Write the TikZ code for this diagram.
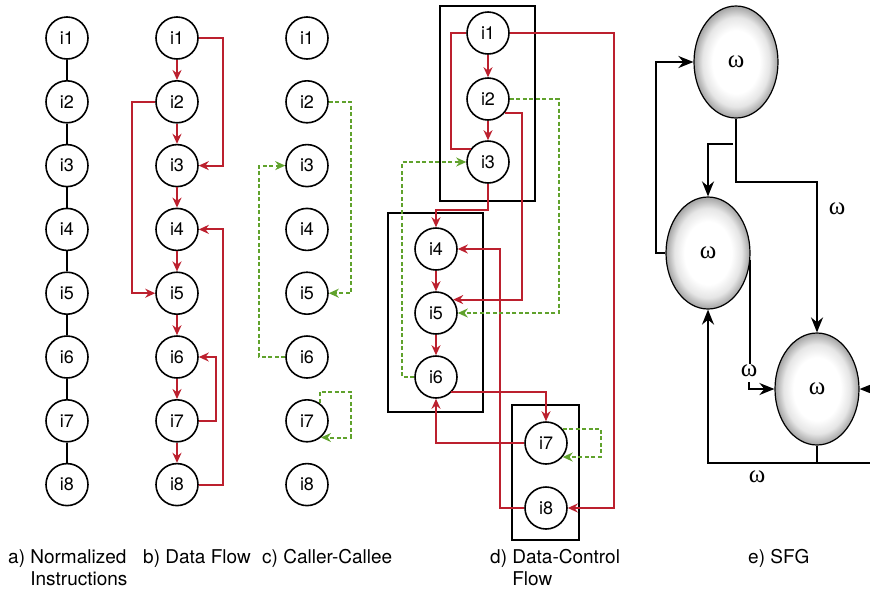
\documentclass[tikz,border=0pt]{standalone}
\usepackage{fontspec}
\setmainfont{TeX Gyre Heros}
\newfontfamily\omegafont{Liberation Serif}
\usetikzlibrary{shapes.geometric,arrows.meta}

\definecolor{flowred}{RGB}{188,32,46}
\definecolor{callgreen}{RGB}{96,162,44}

\pgfdeclareradialshading{sfgshade}{\pgfpoint{0bp}{0bp}}{%
  color(0bp)=(white); color(14bp)=(white); color(20bp)=(black!10);
  color(25bp)=(black!36); color(50bp)=(black!36)}

\tikzset{
  instr/.style={draw, circle, line width=1.6pt, minimum size=42pt, inner sep=0pt,
    font=\fontsize{18}{18}\selectfont},
  seqline/.style={line width=1.8pt},
  dataflow/.style={draw=flowred, line width=2pt, -{Stealth[length=10pt,width=9pt]}},
  callflow/.style={draw=callgreen, line width=2pt, dash pattern=on 4pt off 2.5pt,
    -{Stealth[length=10pt,width=9pt]}},
  blockbox/.style={line width=1.8pt},
  sfgnode/.style={ellipse, draw, line width=1.2pt, minimum width=84pt, minimum height=112pt,
    inner sep=0pt, shade, shading=sfgshade,
    font=\omegafont\fontsize{25}{25}\selectfont},
  sfgline/.style={line width=2pt},
  sfgedge/.style={line width=2pt, -{Stealth[length=15pt,width=12pt]}},
  weight/.style={font=\omegafont\fontsize{25}{25}\selectfont, inner sep=1pt},
  panelcaption/.style={align=left, anchor=north west, inner sep=0pt,
    font=\fontsize{19}{22}\selectfont}
}

\begin{document}
\begin{tikzpicture}[x=1pt, y=-1pt]
  \clip (0,0) rectangle (870,595);

  % Instruction columns a), b), c)
  \foreach \n in {1,...,8} {
    \node[instr] (a\n) at (67,{38+(\n-1)*63.8}) {i\n};
    \node[instr] (b\n) at (177,{38+(\n-1)*63.8}) {i\n};
    \node[instr] (c\n) at (307,{38+(\n-1)*63.8}) {i\n};
  }

  % a) Normalized instructions
  \foreach \n [count=\m from 2] in {1,...,7}
    \draw[seqline] (a\n) -- (a\m);

  % b) Data flow
  \foreach \n [count=\m from 2] in {1,...,7}
    \draw[dataflow] (b\n) -- (b\m);
  \draw[dataflow] (b1.east) -- ++(24,0) |- (b3.east);
  \draw[dataflow] (b2.west) -- ++(-23,0) |- (b5.west);
  \draw[dataflow] (b8.east) -- ++(24,0) |- (b4.east);
  \draw[dataflow] (b7.east) -- ++(17,0) |- (b6.east);

  % c) Caller-callee
  \draw[callflow] (c2.east) -- ++(22,0) |- (c5.east);
  \draw[callflow] (c6.west) -- ++(-26,0) |- (c3.west);
  \draw[callflow] (c7.55) -- ++(0,-11) -- ++(31,0) |- (c7.-50);

  % d) Data-control flow
  \draw[blockbox] (440,6) rectangle (535,201);
  \draw[blockbox] (388,213) rectangle (483,412);
  \draw[blockbox] (512,405) rectangle (579,540);

  \node[instr] (d1) at (488,33) {i1};
  \node[instr] (d2) at (488,99) {i2};
  \node[instr] (d3) at (488,162) {i3};
  \node[instr] (d4) at (436,249) {i4};
  \node[instr] (d5) at (436,313) {i5};
  \node[instr] (d6) at (436,377) {i6};
  \node[instr] (d7) at (546,443) {i7};
  \node[instr] (d8) at (546,508) {i8};

  \draw[dataflow] (d1) -- (d2);
  \draw[dataflow] (d2) -- (d3);
  \draw[dataflow] (d4) -- (d5);
  \draw[dataflow] (d5) -- (d6);
  \draw[dataflow, -] (d1.west) -- ++(-15,0) |- (d3.142);
  \draw[dataflow] (d1.east) -- ++(104,0) |- (d8.east);
  \draw[dataflow] (d2.-40) -- ++(17.5,0) |- (d5.38);
  \draw[dataflow] (d3.south) -- ++(0,26) -| (d4.north);
  \draw[dataflow] (d8.west) -- ++(-24,0) |- (d4.east);
  \draw[dataflow] (d6.-45) -| (d7.north);
  \draw[dataflow] (d7.west) -| (d6.south);
  \draw[callflow] (d2.east) -- ++(49,0) |- (d5.east);
  \draw[callflow] (d6.west) -- ++(-12,0) |- (d3.west);
  \draw[callflow] (d7.40) -- ++(38,0) |- (d7.-40);

  % e) SFG
  \node[sfgnode] (e1) at (736,62) {ω};
  \node[sfgnode] (e2) at (708,253) {ω};
  \node[sfgnode] (e3) at (817,389) {ω};
  \coordinate (eside) at (885,389);
  \coordinate (ebase) at (885,463);
  \node[weight] (w1) at (837,209) {ω};
  \node[weight] (w2) at (749,371) {ω};
  \node[weight] (w3) at (757,477) {ω};

  \draw[sfgedge] (e1.south) -- ++(0,63) -| (e3.north);
  \draw[sfgedge] (e1.south) ++(-3,25) -| (e2.north);
  \draw[sfgedge] (e2.west) -- ++(-9,0) |- (e1.west);
  \draw[sfgline] (e2.-10) -- (e2.-10 |- w2.north);
  \draw[sfgedge] ([yshift=-4pt]w2.south) |- (e3.west);
  \draw[sfgedge] (eside) -- (e3.east);
  \draw[sfgline] (e3.south) -- (e3.south |- ebase);
  \draw[sfgedge] (ebase) -| (e2.south);

  % Captions
  \node[panelcaption] (capa) at (8,549) {a) Normalized\\\phantom{a) }Instructions};
  \node[panelcaption] (capb) at (143,549) {b) Data Flow};
  \node[panelcaption] (capc) at (262,549) {c) Caller-Callee};
  \node[panelcaption] (capd) at (490,549) {d) Data-Control\\\phantom{d) }Flow};
  \node[panelcaption] (cape) at (748,549) {e) SFG};
\end{tikzpicture}
\end{document}
